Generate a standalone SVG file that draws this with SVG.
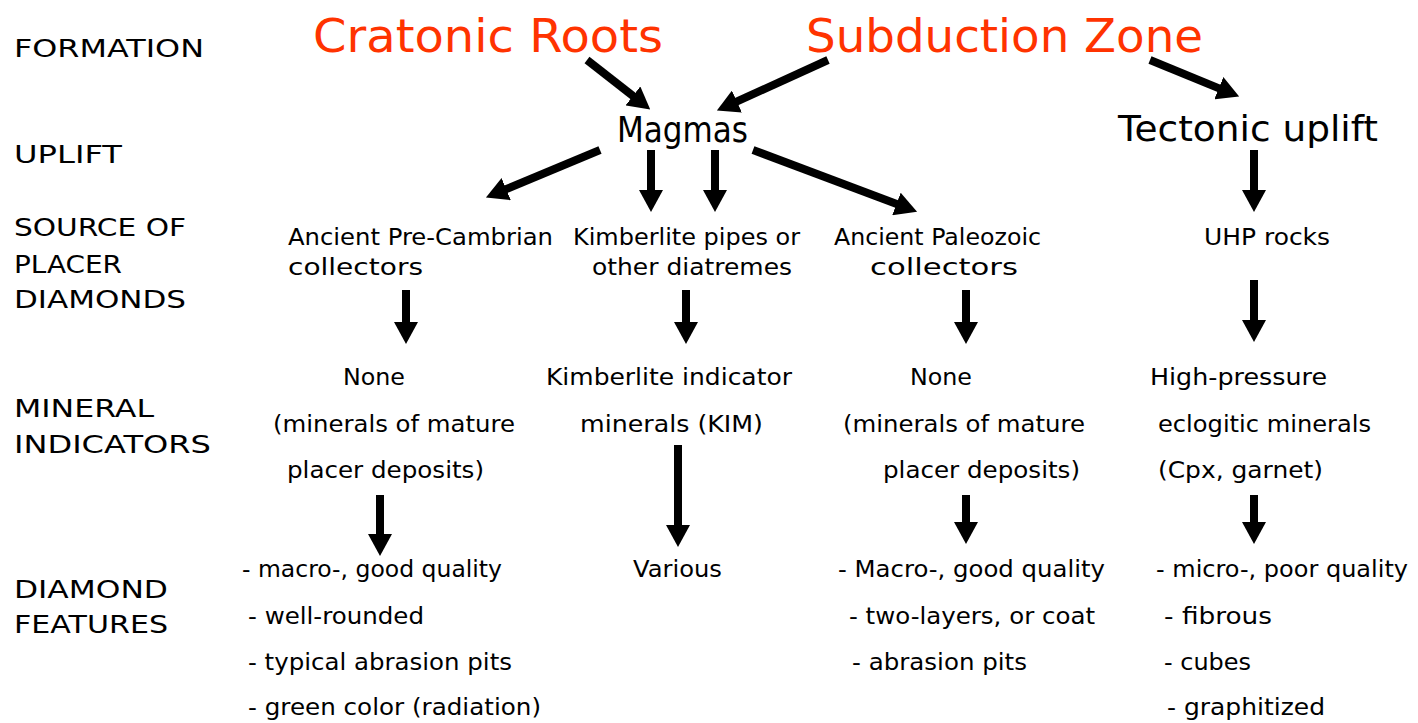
<svg xmlns="http://www.w3.org/2000/svg" width="1418" height="723" viewBox="0 0 1418 723">
<style>
text{font-family:"DejaVu Sans","Liberation Sans",sans-serif;fill:#000}
.lab{font-size:25px}
.hd{font-size:46px;fill:#FF3300}
.mid{font-size:36px}
.t{font-size:23px}
.c line{stroke:#000;stroke-width:8;marker-end:url(#ah)}
</style>
<defs>
<marker id="ah" viewBox="0 -12 22 24" markerWidth="22" markerHeight="24" refX="1" refY="0" orient="auto" markerUnits="userSpaceOnUse">
<path d="M0,-12 L22,0 L0,12 z" fill="#000"/>
</marker>
</defs>
<rect width="1418" height="723" fill="#fff"/>
<g id="row-labels">
<text class="lab" x="14" y="57" textLength="190" lengthAdjust="spacingAndGlyphs">FORMATION</text>
<text class="lab" x="14" y="163" textLength="108" lengthAdjust="spacingAndGlyphs">UPLIFT</text>
<text class="lab" x="14" y="236" textLength="172" lengthAdjust="spacingAndGlyphs">SOURCE OF</text>
<text class="lab" x="14" y="273" textLength="108" lengthAdjust="spacingAndGlyphs">PLACER</text>
<text class="lab" x="14" y="308" textLength="172" lengthAdjust="spacingAndGlyphs">DIAMONDS</text>
<text class="lab" x="14" y="417" textLength="140" lengthAdjust="spacingAndGlyphs">MINERAL</text>
<text class="lab" x="14" y="453" textLength="197" lengthAdjust="spacingAndGlyphs">INDICATORS</text>
<text class="lab" x="14" y="598" textLength="154" lengthAdjust="spacingAndGlyphs">DIAMOND</text>
<text class="lab" x="14" y="633" textLength="154" lengthAdjust="spacingAndGlyphs">FEATURES</text>
</g>
<g id="cratonic"><text class="hd" x="313" y="52" textLength="350" lengthAdjust="spacingAndGlyphs">Cratonic Roots</text></g>
<g id="subduction"><text class="hd" x="806" y="52" textLength="397" lengthAdjust="spacingAndGlyphs">Subduction Zone</text></g>
<g id="magmas"><text class="mid" x="617" y="142" textLength="131" lengthAdjust="spacingAndGlyphs">Magmas</text></g>
<g id="tectonic"><text class="mid" x="1118" y="141" textLength="260" lengthAdjust="spacingAndGlyphs">Tectonic uplift</text></g>
<g id="precambrian">
<text class="t" x="288" y="245" textLength="265" lengthAdjust="spacingAndGlyphs">Ancient Pre-Cambrian</text>
<text class="t" x="288" y="275" textLength="135" lengthAdjust="spacingAndGlyphs">collectors</text>
</g>
<g id="kimberlite">
<text class="t" x="573" y="245" textLength="227" lengthAdjust="spacingAndGlyphs">Kimberlite pipes or</text>
<text class="t" x="592" y="275" textLength="200" lengthAdjust="spacingAndGlyphs">other diatremes</text>
</g>
<g id="paleozoic">
<text class="t" x="834" y="245" textLength="207" lengthAdjust="spacingAndGlyphs">Ancient Paleozoic</text>
<text class="t" x="870" y="275" textLength="148" lengthAdjust="spacingAndGlyphs">collectors</text>
</g>
<g id="uhp"><text class="t" x="1204" y="245" textLength="126" lengthAdjust="spacingAndGlyphs">UHP rocks</text></g>
<g id="none1">
<text class="t" x="343" y="385" textLength="62" lengthAdjust="spacingAndGlyphs">None</text>
<text class="t" x="273" y="432" textLength="242" lengthAdjust="spacingAndGlyphs">(minerals of mature</text>
<text class="t" x="287" y="478" textLength="197" lengthAdjust="spacingAndGlyphs">placer deposits)</text>
</g>
<g id="kim">
<text class="t" x="546" y="385" textLength="246" lengthAdjust="spacingAndGlyphs">Kimberlite indicator</text>
<text class="t" x="580" y="432" textLength="183" lengthAdjust="spacingAndGlyphs">minerals (KIM)</text>
</g>
<g id="none2">
<text class="t" x="910" y="385" textLength="62" lengthAdjust="spacingAndGlyphs">None</text>
<text class="t" x="843" y="432" textLength="242" lengthAdjust="spacingAndGlyphs">(minerals of mature</text>
<text class="t" x="883" y="478" textLength="197" lengthAdjust="spacingAndGlyphs">placer deposits)</text>
</g>
<g id="highpressure">
<text class="t" x="1150" y="385" textLength="177" lengthAdjust="spacingAndGlyphs">High-pressure</text>
<text class="t" x="1158" y="432" textLength="213" lengthAdjust="spacingAndGlyphs">eclogitic minerals</text>
<text class="t" x="1158" y="478" textLength="165" lengthAdjust="spacingAndGlyphs">(Cpx, garnet)</text>
</g>
<g id="features1">
<text class="t" x="242" y="577" textLength="260" lengthAdjust="spacingAndGlyphs">- macro-, good quality</text>
<text class="t" x="248" y="624" textLength="176" lengthAdjust="spacingAndGlyphs">- well-rounded</text>
<text class="t" x="248" y="670" textLength="264" lengthAdjust="spacingAndGlyphs">- typical abrasion pits</text>
<text class="t" x="248" y="715" textLength="293" lengthAdjust="spacingAndGlyphs">- green color (radiation)</text>
</g>
<g id="various"><text class="t" x="633" y="577" textLength="89" lengthAdjust="spacingAndGlyphs">Various</text></g>
<g id="features2">
<text class="t" x="838" y="577" textLength="267" lengthAdjust="spacingAndGlyphs">- Macro-, good quality</text>
<text class="t" x="849" y="624" textLength="246" lengthAdjust="spacingAndGlyphs">- two-layers, or coat</text>
<text class="t" x="852" y="670" textLength="175" lengthAdjust="spacingAndGlyphs">- abrasion pits</text>
</g>
<g id="features3">
<text class="t" x="1156" y="577" textLength="252" lengthAdjust="spacingAndGlyphs">- micro-, poor quality</text>
<text class="t" x="1164" y="624" textLength="108" lengthAdjust="spacingAndGlyphs">- fibrous</text>
<text class="t" x="1164" y="670" textLength="87" lengthAdjust="spacingAndGlyphs">- cubes</text>
<text class="t" x="1167" y="715" textLength="158" lengthAdjust="spacingAndGlyphs">- graphitized</text>
</g>
<g id="connectors" class="c">
<line x1="587" y1="60" x2="633.7" y2="96.5"/>
<line x1="828" y1="60" x2="736" y2="101.9"/>
<line x1="600" y1="150" x2="505.3" y2="189.5"/>
<line x1="651" y1="150" x2="651" y2="191"/>
<line x1="715" y1="150" x2="715" y2="191"/>
<line x1="753" y1="150" x2="897.4" y2="204.3"/>
<line x1="1150" y1="60" x2="1219.7" y2="88.6"/>
<line x1="1254" y1="150" x2="1254" y2="191"/>
<line x1="406" y1="290" x2="406" y2="323"/>
<line x1="686" y1="290" x2="686" y2="323"/>
<line x1="966" y1="290" x2="966" y2="323"/>
<line x1="1254" y1="280" x2="1254" y2="321"/>
<line x1="380" y1="495" x2="380" y2="535"/>
<line x1="678" y1="445" x2="678" y2="526"/>
<line x1="966" y1="495" x2="966" y2="523"/>
<line x1="1254" y1="495" x2="1254" y2="523"/>
</g>
</svg>
